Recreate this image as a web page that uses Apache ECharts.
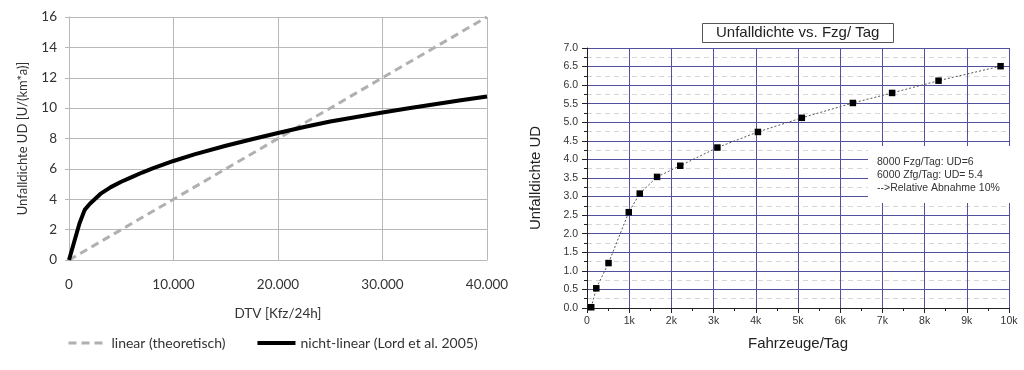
<!DOCTYPE html>
<html><head><meta charset="utf-8">
<script src="https://cdn.jsdelivr.net/npm/echarts@6/dist/echarts.min.js"></script>
<style>html,body{margin:0;padding:0;background:#fff}#c{width:1024px;height:370px}</style>
</head><body><div id="c"></div>
<script>
// Left chart data
const dtv = [0, 500, 1000, 1500, 2000, 3000, 4000, 5000, 6000, 7000, 8000, 10000, 12000, 15000, 17500, 20000, 22500, 25000, 27500, 30000, 32500, 35000, 37500, 40000];
const udNonLinear = [0, 1.2, 2.4, 3.3, 3.7, 4.35, 4.8, 5.15, 5.46, 5.76, 6.03, 6.52, 6.95, 7.52, 7.95, 8.36, 8.76, 9.12, 9.42, 9.71, 9.99, 10.26, 10.52, 10.77];
const linearX = [0, 40000];
const linearY = [0, 16];
const leftSeriesNames = ['linear (theoretisch)', 'nicht-linear (Lord et al. 2005)'];
// Right chart data
const fzgTag = [100, 220, 510, 990, 1250, 1660, 2210, 3090, 4050, 5090, 6300, 7230, 8330, 9800];
const udMeasured = [0.02, 0.53, 1.21, 2.58, 3.08, 3.53, 3.83, 4.32, 4.74, 5.12, 5.52, 5.79, 6.12, 6.51];
const rightTitle = 'Unfalldichte vs. Fzg/ Tag';
const noteLines = ['8000 Fzg/Tag: UD=6', '6000 Zfg/Tag: UD= 5.4', '-->Relative Abnahme 10%'];

const zip = (a, b) => a.map((v, i) => [v, b[i]]);
const LF = 'Lato, "Open Sans", sans-serif';
const AF = '"Liberation Sans", Arial, sans-serif';
const gray = '#333';
const navy = '#50509c';

const chart = echarts.init(document.getElementById('c'), null, {renderer: 'canvas'});
chart.setOption({
  animation: false,
  backgroundColor: '#fff',
  title: [
    {text: rightTitle, left: 702, top: 23, borderColor: '#555', borderWidth: 1,
     padding: [2, 14, 2, 14],
     textStyle: {fontFamily: AF, fontSize: 15, fontWeight: 'normal', color: '#222', lineHeight: 16}},
    {text: noteLines.join('\n'), left: 868, top: 146, backgroundColor: '#fff',
     padding: [9, 12, 8, 9],
     textStyle: {fontFamily: AF, fontSize: 10.5, fontWeight: 'normal', color: '#333', lineHeight: 13.3}}
  ],
  legend: {
    data: [
      {name: leftSeriesNames[0], lineStyle: {width: 3, type: [8, 5], color: '#b0b0b0'}},
      {name: leftSeriesNames[1], lineStyle: {width: 4, color: '#000'}}
    ],
    left: 62, top: 331, itemWidth: 38, itemHeight: 12, itemGap: 30,
    itemStyle: {opacity: 0},
    textStyle: {fontFamily: LF, fontSize: 14, color: gray}
  },
  grid: [
    {left: 69, top: 17, width: 418, height: 243},
    {left: 587, top: 48, width: 422, height: 260}
  ],
  xAxis: [
    {type: 'value', gridIndex: 0, min: 0, max: 40000, interval: 10000,
     name: 'DTV [Kfz/24h]', nameLocation: 'middle', nameGap: 47,
     nameTextStyle: {fontFamily: LF, fontSize: 13.5, color: gray},
     axisLine: {show: true, lineStyle: {color: '#b8b8b8'}},
     axisTick: {show: false},
     axisLabel: {fontFamily: LF, fontSize: 13.5, color: gray, margin: 18,
       formatter: v => v === 0 ? '0' : (v / 1000) + '.000'},
     splitLine: {show: true, lineStyle: {color: '#b8b8b8', width: 1}}},
    {type: 'value', gridIndex: 1, min: 0, max: 10000, interval: 1000,
     name: 'Fahrzeuge/Tag', nameLocation: 'middle', nameGap: 28,
     nameTextStyle: {fontFamily: AF, fontSize: 15, color: '#222'},
     axisLine: {show: true, lineStyle: {color: '#222'}},
     axisTick: {show: true, length: 5, lineStyle: {color: '#222'}},
     minorTick: {show: true, splitNumber: 2, length: 3, lineStyle: {color: '#222'}},
     axisLabel: {fontFamily: AF, fontSize: 10.5, color: '#333', margin: 8,
       formatter: v => v === 0 ? '0' : (v / 1000) + 'k'},
     splitLine: {show: true, lineStyle: {color: navy, width: 1}}}
  ],
  yAxis: [
    {type: 'value', gridIndex: 0, min: 0, max: 16, interval: 2,
     name: 'Unfalldichte UD [U/(km*a)]', nameLocation: 'middle', nameGap: 40,
     nameTextStyle: {fontFamily: LF, fontSize: 13, color: gray},
     axisLine: {show: true, lineStyle: {color: '#b8b8b8'}},
     axisTick: {show: true, length: 4, lineStyle: {color: '#b8b8b8'}},
     axisLabel: {fontFamily: LF, fontSize: 13.5, color: gray, margin: 12},
     splitLine: {show: true, lineStyle: {color: '#b8b8b8', width: 1}}},
    {type: 'value', gridIndex: 1, min: 0, max: 7, interval: 0.5,
     name: 'Unfalldichte UD', nameLocation: 'middle', nameGap: 44,
     nameTextStyle: {fontFamily: AF, fontSize: 15, color: '#222'},
     axisLine: {show: true, lineStyle: {color: '#222'}},
     axisTick: {show: true, length: 5, lineStyle: {color: '#222'}},
     minorTick: {show: true, splitNumber: 2, length: 3, lineStyle: {color: '#222'}},
     axisLabel: {fontFamily: AF, fontSize: 10.5, color: '#333', margin: 9,
       formatter: v => v.toFixed(1)},
     splitLine: {show: true, lineStyle: {color: navy, width: 1}},
     minorSplitLine: {show: true, lineStyle: {color: '#d6d6d6', type: [5, 4], width: 1}}}
  ],
  series: [
    {name: leftSeriesNames[0], type: 'line', xAxisIndex: 0, yAxisIndex: 0,
     data: zip(linearX, linearY), symbol: 'none', z: 3,
     itemStyle: {color: '#b0b0b0'},
     lineStyle: {color: '#b0b0b0', width: 3, type: [8, 5]}},
    {name: leftSeriesNames[1], type: 'line', xAxisIndex: 0, yAxisIndex: 0,
     data: zip(dtv, udNonLinear), symbol: 'none', z: 4,
     itemStyle: {color: '#000'},
     lineStyle: {color: '#000', width: 4, join: 'round'}},
    {name: 'Unfalldichte', type: 'line', xAxisIndex: 1, yAxisIndex: 1,
     data: zip(fzgTag, udMeasured), symbol: 'rect', symbolSize: 6.5,
     itemStyle: {color: '#000'},
     lineStyle: {color: '#555', width: 1, type: [2, 2]}}
  ]
});
</script></body></html>
